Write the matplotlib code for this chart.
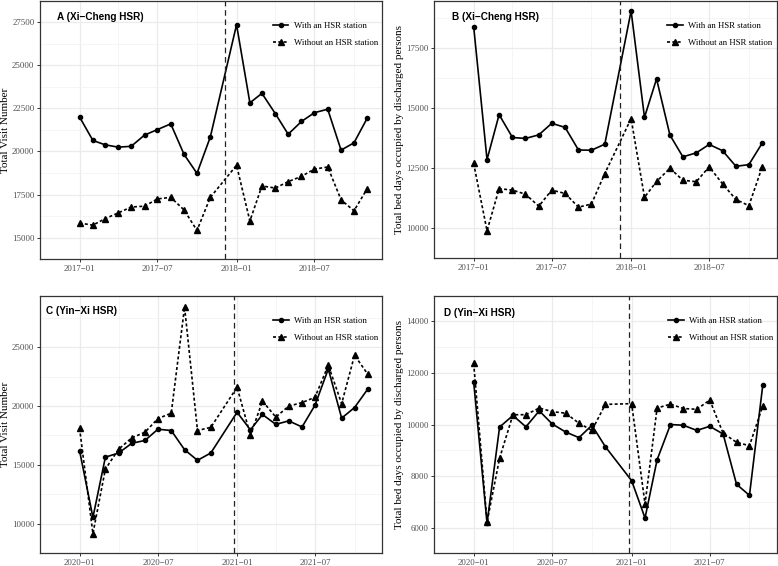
import matplotlib
matplotlib.use("Agg")
import matplotlib.pyplot as plt
import matplotlib.dates as mdates
import matplotlib.ticker as ticker
import pandas as pd

plt.rcParams['font.family'] = ['Liberation Serif', 'DejaVu Serif']


def month_list(y0):
    # Jan-Nov of two years, December is not in the data
    return [pd.Timestamp(f"{y}-{m:02d}-01") for y in (y0, y0 + 1) for m in range(1, 12)]


dates_xc = month_list(2017)
dates_yx = month_list(2020)
open_xc = pd.Timestamp("2017-12-06")
open_yx = pd.Timestamp("2020-12-26")

# A: Xi-Cheng, visits
visit_xc_with = [22000, 20640, 20390, 20250, 20300, 20950, 21270, 21600, 19830, 18730, 20840,
                 27350, 22820, 23370, 22200, 21000, 21740, 22250, 22450, 20080, 20500, 21940]
visit_xc_without = [15850, 15730, 16100, 16440, 16780, 16830, 17250, 17340, 16610, 15420, 17340,
                    19200, 15970, 18000, 17880, 18250, 18560, 18980, 19100, 17200, 16560, 17850]
# B: Xi-Cheng, bed days
bed_xc_with = [18400, 12860, 14730, 13780, 13740, 13890, 14370, 14200, 13260, 13250, 13500,
               19050, 14620, 16220, 13880, 12975, 13140, 13490, 13230, 12580, 12650, 13550]
bed_xc_without = [12700, 9900, 11650, 11590, 11420, 10920, 11590, 11450, 10880, 11010, 12280,
                  14565, 11290, 11950, 12500, 12000, 11940, 12560, 11850, 11200, 10940, 12560]
# C: Yin-Xi, visits
visit_yx_with = [16200, 10550, 15660, 16015, 16830, 17080, 18030, 17920, 16290, 15390, 16015,
                 19470, 17975, 19280, 18440, 18740, 18220, 20065, 23140, 18970, 19870, 21450]
visit_yx_without = [18110, 9180, 14650, 16340, 17290, 17780, 18930, 19390, 28400, 17920, 18190,
                    21595, 17510, 20420, 19060, 19990, 20290, 20740, 23460, 20200, 24310, 22680]
# D: Yin-Xi, bed days
bed_yx_with = [11650, 6170, 9900, 10350, 9910, 10530, 10020, 9710, 9490, 9970, 9140,
               7820, 6370, 8630, 10000, 9970, 9770, 9930, 9630, 7680, 7250, 11550]
bed_yx_without = [12370, 6215, 8690, 10380, 10380, 10640, 10500, 10440, 10050, 9770, 10780,
                  10810, 6915, 10640, 10790, 10620, 10590, 10950, 9660, 9310, 9175, 10730]

label_with = "With an HSR station"
label_without = "Without an HSR station"
ylab_visit = "Total Visit Number"
ylab_bed = "Total bed days occupied by discharged persons"

panels = [
    # rect, tag, dates, with, without, open date, ylabel, ylim, yticks, tag pos
    ([0.0514, 0.5419, 0.4392, 0.4571], "A (Xi\u2212Cheng HSR)", dates_xc, visit_xc_with, visit_xc_without,
     open_xc, ylab_visit, (14823, 27947), list(range(15000, 27501, 2500)), (0.05, 0.938)),
    ([0.5578, 0.5436, 0.4405, 0.4554], "B (Xi\u2212Cheng HSR)", dates_xc, bed_xc_with, bed_xc_without,
     open_xc, ylab_bed, (9457, 19480), list(range(10000, 17501, 2500)), (0.053, 0.938)),
    ([0.0514, 0.0224, 0.4400, 0.4552], "C (Yin\u2212Xi HSR)", dates_yx, visit_yx_with, visit_yx_without,
     open_yx, ylab_visit, (8222, 29361), list(range(10000, 25001, 5000)), (0.017, 0.939)),
    ([0.5578, 0.0224, 0.4413, 0.4552], "D (Yin\u2212Xi HSR)", dates_yx, bed_yx_with, bed_yx_without,
     open_yx, ylab_bed, (5700, 14395), list(range(6000, 14001, 2000)), (0.029, 0.933)),
]

fig = plt.figure(figsize=(7.78, 5.66), dpi=100)

for rect, tag, dates, y_with, y_without, t_open, ylab, ylim, yticks, tagpos in panels:
    ax = fig.add_axes(rect)
    ax.set_axisbelow(True)

    ax.plot(dates, y_with, color="black", lw=1.2, marker="o", markersize=3.0, label=label_with)
    ax.plot(dates, y_without, color="black", lw=1.2, linestyle=(0, (1.8, 1.4)), marker="^",
            markersize=3.8, label=label_without)
    ax.axvline(t_open, color="#222222", lw=0.9, linestyle=(0, (4.5, 3)))

    # x range with 5% padding like ggplot
    span = dates[-1] - dates[0]
    ax.set_xlim(dates[0] - span * 0.05, dates[-1] + span * 0.05)
    y0 = dates[0].year
    major = [pd.Timestamp(f"{y0}-01-01"), pd.Timestamp(f"{y0}-07-01"),
             pd.Timestamp(f"{y0 + 1}-01-01"), pd.Timestamp(f"{y0 + 1}-07-01")]
    minor = [pd.Timestamp(f"{y0 - 1}-10-01"), pd.Timestamp(f"{y0}-04-01"), pd.Timestamp(f"{y0}-10-01"),
             pd.Timestamp(f"{y0 + 1}-04-01"), pd.Timestamp(f"{y0 + 1}-10-01")]
    ax.set_xticks(major)
    ax.set_xticks(minor, minor=True)
    ax.xaxis.set_major_formatter(mdates.DateFormatter("%Y\u2212%m"))

    ax.set_ylim(*ylim)
    ax.set_yticks(yticks)
    step = yticks[1] - yticks[0]
    ax.set_yticks([v + step / 2 for v in [yticks[0] - step] + yticks], minor=True)
    ax.yaxis.set_major_formatter(ticker.FormatStrFormatter("%d"))

    ax.grid(which="major", color="#EBEBEB", lw=0.9)
    ax.grid(which="minor", color="#F2F2F2", lw=0.5)
    ax.tick_params(which="major", length=2.5, width=0.7, color="#333333", labelsize=6.3,
                   labelcolor="#4D4D4D", pad=1.5)
    ax.tick_params(which="minor", length=0)
    for s in ax.spines.values():
        s.set_color("#333333")
        s.set_linewidth(0.9)

    ax.set_ylabel(ylab, fontsize=8, labelpad=1.5)
    ax.text(tagpos[0], tagpos[1], tag, transform=ax.transAxes, ha="left", va="center",
            fontsize=7.2, fontweight="bold", family=["Liberation Sans", "DejaVu Sans"])
    ax.legend(loc="upper left", bbox_to_anchor=(0.681, 0.917), frameon=False, fontsize=6.3,
              handlelength=1.8, handletextpad=0.6, labelspacing=1.0, borderpad=0,
              borderaxespad=0)

fig.savefig("out.png", dpi=100)
